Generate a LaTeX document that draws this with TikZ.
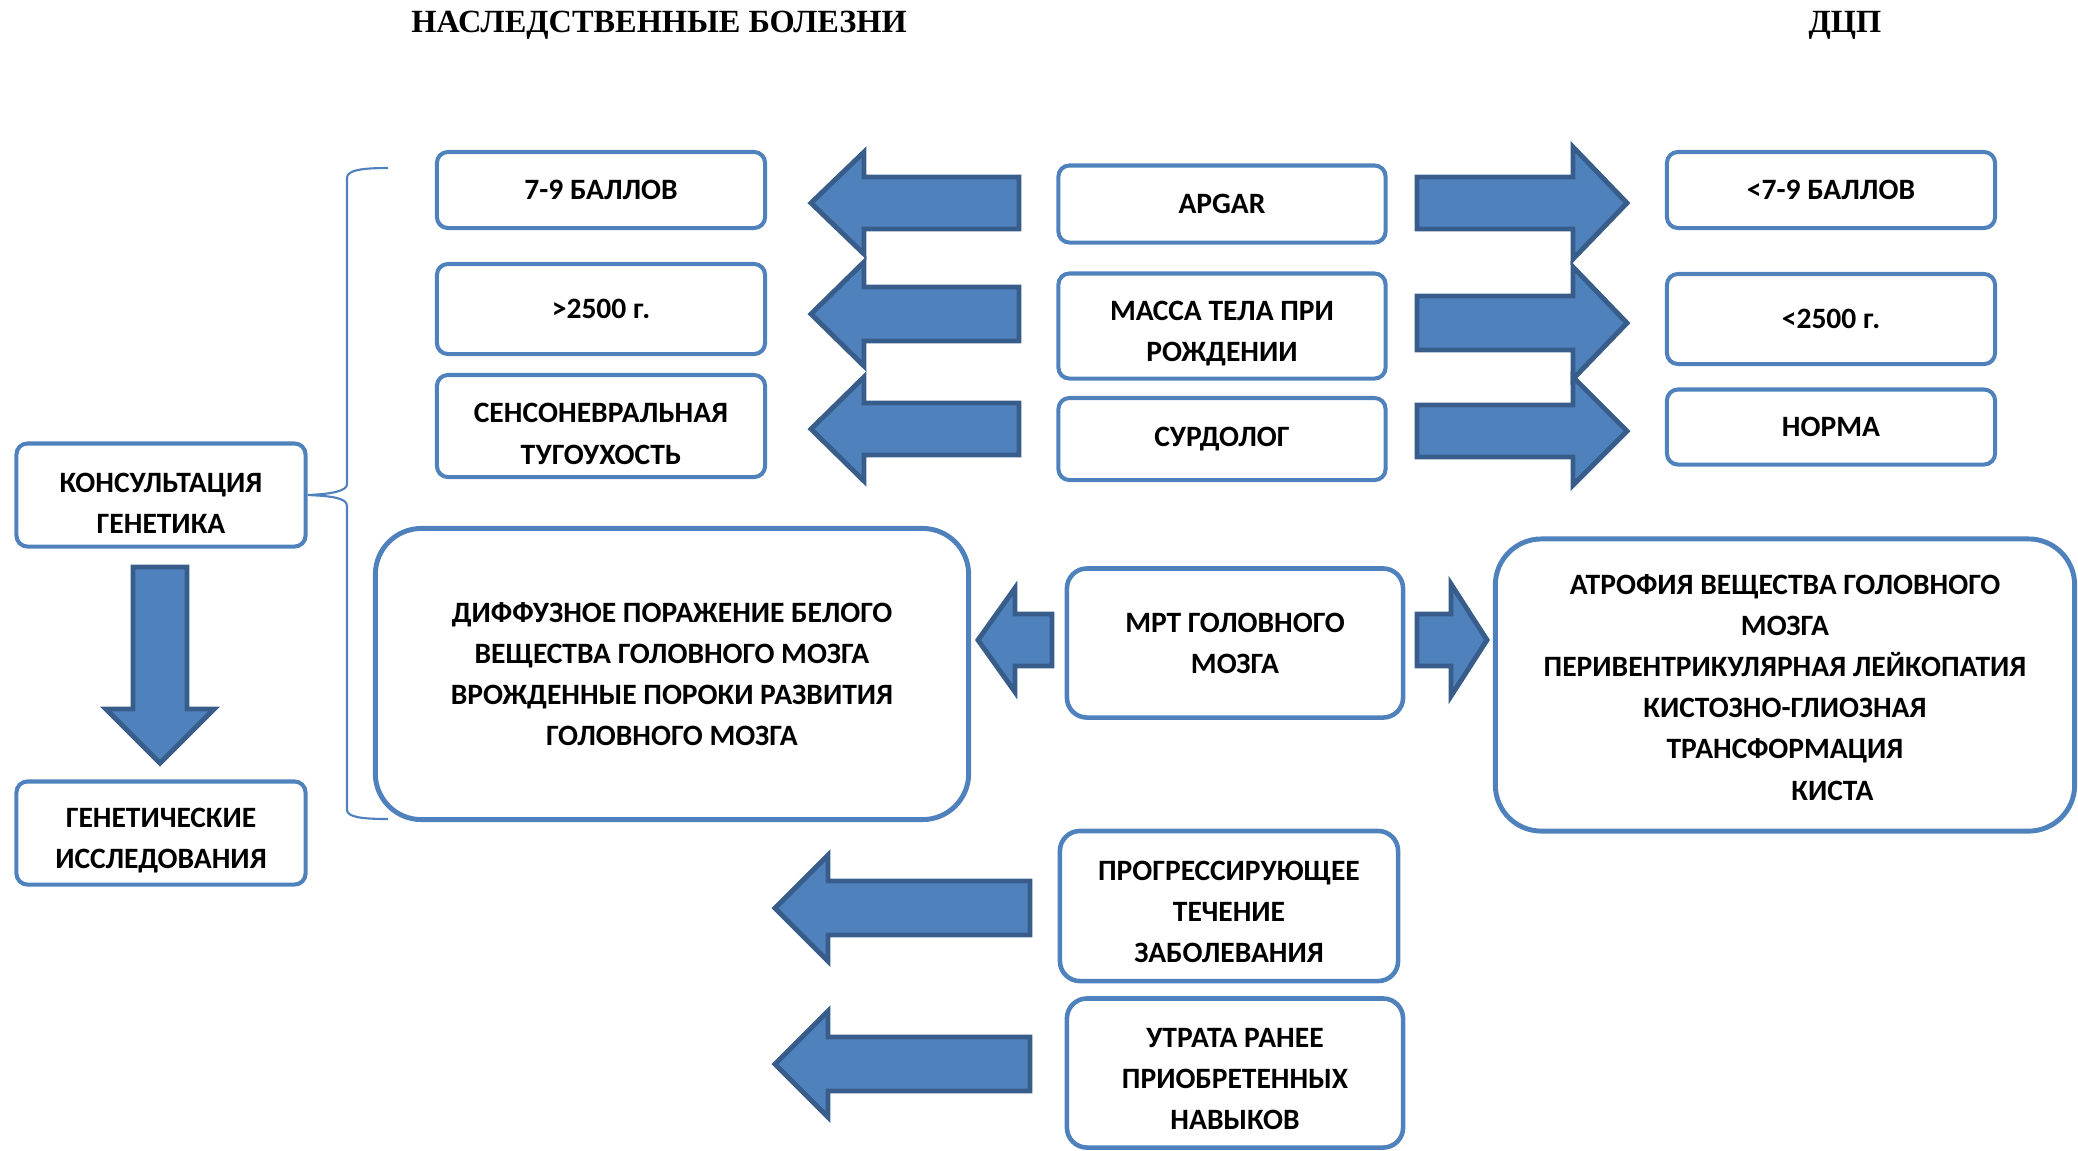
\documentclass[tikz,border=0pt]{standalone}
\usepackage{fontspec}
\setmainfont{Carlito}
\newfontfamily\titlefont{Liberation Serif}
\usetikzlibrary{positioning}

\definecolor{boxblue}{HTML}{4F81BD}
\definecolor{arrowedge}{HTML}{385D8A}

% horizontal block arrow: tip x, axis y, head base x, tail x, half head, half shaft
\newcommand{\harrow}[6]{%
  \draw[blockarrow] (#1,#2) -- (#3,#2-#5) -- (#3,#2-#6) -- (#4,#2-#6)
    -- (#4,#2+#6) -- (#3,#2+#6) -- (#3,#2+#5) -- cycle;}
% vertical block arrow: tip y, axis x, head base y, tail y, half head, half shaft
\newcommand{\varrow}[6]{%
  \draw[blockarrow] (#2,#1) -- (#2-#5,#3) -- (#2-#6,#3) -- (#2-#6,#4)
    -- (#2+#6,#4) -- (#2+#6,#3) -- (#2+#5,#3) -- cycle;}
% pushes the lines of a box a little down
\newcommand{\lowr}{\rule{0pt}{10pt}}

\begin{document}
\begin{tikzpicture}[x=0.01cm, y=-0.01cm,
    box/.style={draw=boxblue, line width=1.15pt, rounded corners=0.11cm,
                align=center, inner sep=0pt,
                font=\bfseries\fontsize{8.4}{11.7}\selectfont},
    bigbox/.style={box, line width=1.4pt, rounded corners=0.46cm},
    midbox/.style={box, line width=1.3pt, rounded corners=0.2cm},
    blockarrow/.style={fill=boxblue, draw=arrowedge, line width=1.4pt},
    heading/.style={font=\titlefont\bfseries\fontsize{9.2}{11}\selectfont}]

    \useasboundingbox (0,0) rectangle (2078,1150);

    % Headings
    \node[heading] (hered) at (659,25) {НАСЛЕДСТВЕННЫЕ БОЛЕЗНИ};
    \node[heading] (dcp) at (1845,25) {ДЦП};

    % Middle column: criteria
    \node[box, minimum width=3.27cm, minimum height=0.77cm] (apgar) at (1222,204) {APGAR};
    \node[box, minimum width=3.27cm, minimum height=1.05cm] (massa) at (1222,326) {\lowr МАССА ТЕЛА ПРИ\\РОЖДЕНИИ};
    \node[box, minimum width=3.27cm, minimum height=0.82cm] (surdo) at (1222,439) {СУРДОЛОГ};

    % Left column: hereditary diseases
    \node[box, minimum width=3.28cm, minimum height=0.76cm] (ball) at (601,190) {7-9 БАЛЛОВ};
    \node[box, minimum width=3.28cm, minimum height=0.90cm] (weight) at (601,309) {>2500 г.};
    \node[box, minimum width=3.28cm, minimum height=1.02cm] (hearing) at (601,426) {\lowr СЕНСОНЕВРАЛЬНАЯ\\ТУГОУХОСТЬ};

    % Right column: cerebral palsy
    \node[box, minimum width=3.28cm, minimum height=0.76cm] (lowball) at (1831,190) {<7-9 БАЛЛОВ};
    \node[box, minimum width=3.28cm, minimum height=0.90cm] (lowweight) at (1831,319) {<2500 г.};
    \node[box, minimum width=3.28cm, minimum height=0.75cm] (norma) at (1831,427) {НОРМА};

    % Genetics
    \node[box, minimum width=2.89cm, minimum height=1.03cm] (consult) at (161,495) {\lowr КОНСУЛЬТАЦИЯ\\ГЕНЕТИКА};
    \node[box, minimum width=2.89cm, minimum height=1.03cm] (genetic) at (161,833) {\lowr ГЕНЕТИЧЕСКИЕ\\ИССЛЕДОВАНИЯ};

    % MRI row
    \node[midbox, minimum width=3.36cm, minimum height=1.49cm] (mrt) at (1235,643) {МРТ ГОЛОВНОГО\\МОЗГА};
    \node[bigbox, minimum width=5.93cm, minimum height=2.91cm] (diffuse) at (672,674)
        {ДИФФУЗНОЕ ПОРАЖЕНИЕ БЕЛОГО\\ВЕЩЕСТВА ГОЛОВНОГО МОЗГА\\ВРОЖДЕННЫЕ ПОРОКИ РАЗВИТИЯ\\ГОЛОВНОГО МОЗГА};
    \node[bigbox, minimum width=5.79cm, minimum height=2.92cm] (atrophy) at (1785,685)
        {\rule{0pt}{7pt}АТРОФИЯ ВЕЩЕСТВА ГОЛОВНОГО\\МОЗГА\\ПЕРИВЕНТРИКУЛЯРНАЯ ЛЕЙКОПАТИЯ\\КИСТОЗНО-ГЛИОЗНАЯ\\ТРАНСФОРМАЦИЯ\\\hspace*{27pt}КИСТА};

    % Course of disease
    \node[midbox, minimum width=3.38cm, minimum height=1.50cm] (progress) at (1229,906) {\rule{0pt}{9pt}ПРОГРЕССИРУЮЩЕЕ\\ТЕЧЕНИЕ\\ЗАБОЛЕВАНИЯ};
    \node[midbox, minimum width=3.36cm, minimum height=1.49cm] (loss) at (1235,1073) {\rule{0pt}{9pt}УТРАТА РАНЕЕ\\ПРИОБРЕТЕННЫХ\\НАВЫКОВ};

    % Block arrows to the left
    \harrow{811}{203}{864}{1019}{51}{26}
    \harrow{811}{314}{864}{1019}{52}{27}
    \harrow{811}{429}{864}{1019}{52}{26}
    \harrow{978}{640}{1015}{1052}{52}{26}
    \harrow{775}{908}{828}{1030}{53}{27}
    \harrow{775}{1064}{828}{1030}{53}{27}

    % Block arrows to the right
    \harrow{1627}{203}{1573}{1417}{56}{26}
    \harrow{1627}{323}{1573}{1417}{56}{27}
    \harrow{1627}{431}{1573}{1417}{54}{26}
    \harrow{1487}{640}{1451}{1417}{56}{26}

    % Down arrow between genetics boxes
    \varrow{763}{160}{709}{567}{54}{27}

    % Brace from consultation box
    \coordinate (bracetop) at (388,168);
    \coordinate (bracetip) at (consult.east);
    \coordinate (bracebot) at (388,819);
    \draw[boxblue, line width=0.6pt] (bracetop) .. controls (362,168) and (347,170) .. (347,178)
        -- (347,484) .. controls (347,491) and (332,494) .. (bracetip)
        .. controls (332,496) and (347,498) .. (347,506)
        -- (347,810) .. controls (347,817) and (362,819) .. (bracebot);

\end{tikzpicture}
\end{document}
